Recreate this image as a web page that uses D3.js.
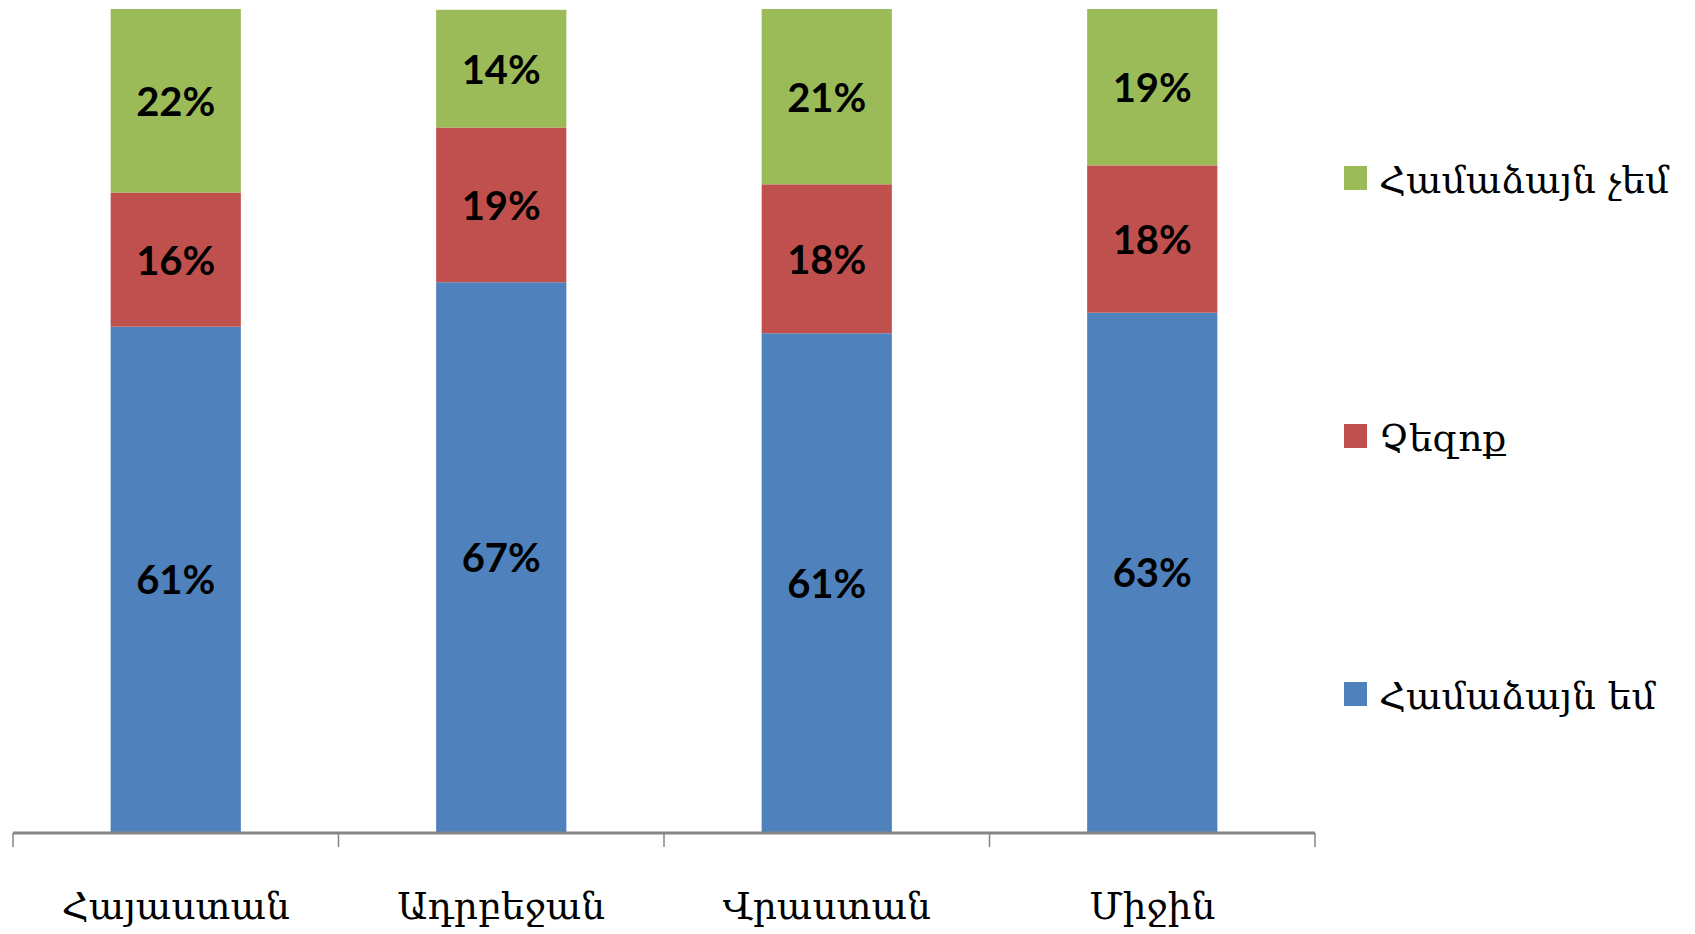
<!DOCTYPE html>
<html lang="hy">
<head>
<meta charset="utf-8">
<title>Համաձայն եմ / Չեզոք / Համաձայն չեմ</title>
<script src="https://d3js.org/d3.v7.min.js"></script>
<style>
  html, body { margin: 0; padding: 0; background: #fff; }
  svg { display: block; }
  .cat, .legend text { font-family: "DejaVu Serif", serif; font-size: 37.5px; fill: #000; }
  .val { font-family: Lato, "Open Sans", sans-serif; font-weight: bold; font-size: 40px; fill: #000; }
</style>
</head>
<body>
<script>
// categories and series (percent)
var categories = ["Հայաստան", "Ադրբեջան", "Վրաստան", "Միջին"];
var seriesNames = ["Համաձայն եմ", "Չեզոք", "Համաձայն չեմ"];
var agree    = [61.4, 66.8, 60.6, 63.1];
var neutral  = [16.3, 18.8, 18.1, 17.9];
var disagree = [22.3, 14.3, 21.3, 19.0];
var colors = ["#4F81BD", "#C0504D", "#9BBB59"];

var W = 1695, H = 934;
var plotLeft = 13, plotRight = 1315, plotTop = 9, base = 832;

var rows = categories.map(function(c, i) {
  return { cat: c, s0: agree[i], s1: neutral[i], s2: disagree[i] };
});
var stack = d3.stack().keys(["s0", "s1", "s2"])(rows);

var x = d3.scaleBand().domain(categories).range([plotLeft, plotRight]).padding(0);
var y = d3.scaleLinear().domain([0, 100]).range([base, plotTop]);
var barW = x.bandwidth() * 0.4;

var svg = d3.select("body").append("svg")
  .attr("width", W).attr("height", H);

// bars
var layers = svg.selectAll("g.layer")
  .data(stack)
  .enter().append("g")
  .attr("class", "layer")
  .attr("fill", function(d, i) { return colors[i]; });

layers.selectAll("rect")
  .data(function(d) { return d; })
  .enter().append("rect")
  .attr("x", function(d) { return x(d.data.cat) + (x.bandwidth() - barW) / 2; })
  .attr("y", function(d) { return y(d[1]); })
  .attr("width", barW)
  .attr("height", function(d) { return y(d[0]) - y(d[1]); });

// value labels
svg.selectAll("g.labels")
  .data(stack)
  .enter().append("g")
  .attr("class", "labels")
  .selectAll("text")
  .data(function(d) { return d; })
  .enter().append("text")
  .attr("class", "val")
  .attr("x", function(d) { return x(d.data.cat) + x.bandwidth() / 2; })
  .attr("y", function(d) { return (y(d[0]) + y(d[1])) / 2; })
  .attr("text-anchor", "middle")
  .attr("dominant-baseline", "central")
  .text(function(d) { return Math.round(d[1] - d[0]) + "%"; });

// x axis: line plus ticks between categories
var axis = svg.append("g");
axis.append("line")
  .attr("x1", plotLeft).attr("x2", plotRight)
  .attr("y1", base + 1).attr("y2", base + 1)
  .attr("stroke", "#868686").attr("stroke-width", 3);
var edges = categories.map(function(c) { return x(c); }).concat([plotRight]);
axis.selectAll("line.tick")
  .data(edges)
  .enter().append("line")
  .attr("class", "tick")
  .attr("x1", function(d) { return d; }).attr("x2", function(d) { return d; })
  .attr("y1", base + 1).attr("y2", base + 15)
  .attr("stroke", "#868686").attr("stroke-width", 1.5);

axis.selectAll("text")
  .data(categories)
  .enter().append("text")
  .attr("class", "cat")
  .attr("x", function(d) { return x(d) + x.bandwidth() / 2; })
  .attr("y", 919)
  .attr("text-anchor", "middle")
  .text(function(d) { return d; });

// legend (top to bottom: last series first)
var legendY = d3.scalePoint().domain([2, 1, 0]).range([178, 694]);
var legend = svg.append("g").attr("class", "legend");
var items = legend.selectAll("g")
  .data([0, 1, 2])
  .enter().append("g")
  .attr("transform", function(d) { return "translate(1344," + legendY(d) + ")"; });
items.append("rect")
  .attr("x", 0).attr("y", -12)
  .attr("width", 23).attr("height", 24)
  .attr("fill", function(d) { return colors[d]; });
items.append("text")
  .attr("x", 35).attr("y", 15)
  .text(function(d) { return seriesNames[d]; });
</script>
</body>
</html>
